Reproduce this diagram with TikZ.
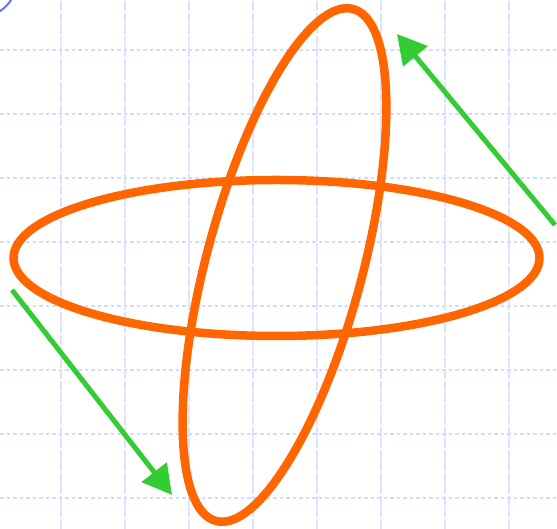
\documentclass[tikz,border=0pt]{standalone}
\usepackage{tikz}
\usetikzlibrary{arrows.meta,calc}
\definecolor{RingOrange}{RGB}{255, 102, 0}
\definecolor{ArrowGreen}{RGB}{51, 204, 51}
\definecolor{GridBlue}{RGB}{210, 220, 252}
\definecolor{EdgeBlue}{RGB}{102, 119, 255}

\begin{document}
\begin{tikzpicture}[x=1pt, y=1pt,
    ring/.style={line width=8.5pt, RingOrange},
    push/.style={line width=5pt, ArrowGreen, -{Triangle[length=29pt, width=31pt]}},
    vline/.style={line width=1.8pt, GridBlue!80, dash pattern=on 10pt off 1.5pt},
    hline/.style={line width=1.8pt, GridBlue, dash pattern=on 3.5pt off 3pt}]
  \useasboundingbox (0, 0) rectangle (557, 529);

  % Background grid
  \foreach \gx in {61, 125, 189, 253, 317, 381, 445, 509}
    \draw[vline] (\gx, 0) -- (\gx, 529);
  \foreach \gy in {31, 95, 159, 223, 287, 351, 415, 479}
    \draw[hline] (0, \gy) -- (557, \gy);

  % Corner arc
  \begin{scope}
    \clip (0, 0) rectangle (557, 529);
    \draw[line width=2pt, EdgeBlue] (-25, 554) circle (44pt);
  \end{scope}

  % Rings
  \draw[ring] (276.5, 271) ellipse (263pt and 78pt);
  \draw[ring, rotate around={75:(284.5, 264)}] (284.5, 264) ellipse (265pt and 78pt);

  % Arrows
  \coordinate (lowStart) at (12, 239);
  \coordinate (lowTip) at (172, 34);
  \coordinate (highStart) at (555, 304);
  \coordinate (highTip) at (397, 495);
  \draw[push] (lowStart) -- (lowTip);
  \draw[push] (highStart) -- (highTip);
\end{tikzpicture}
\end{document}
